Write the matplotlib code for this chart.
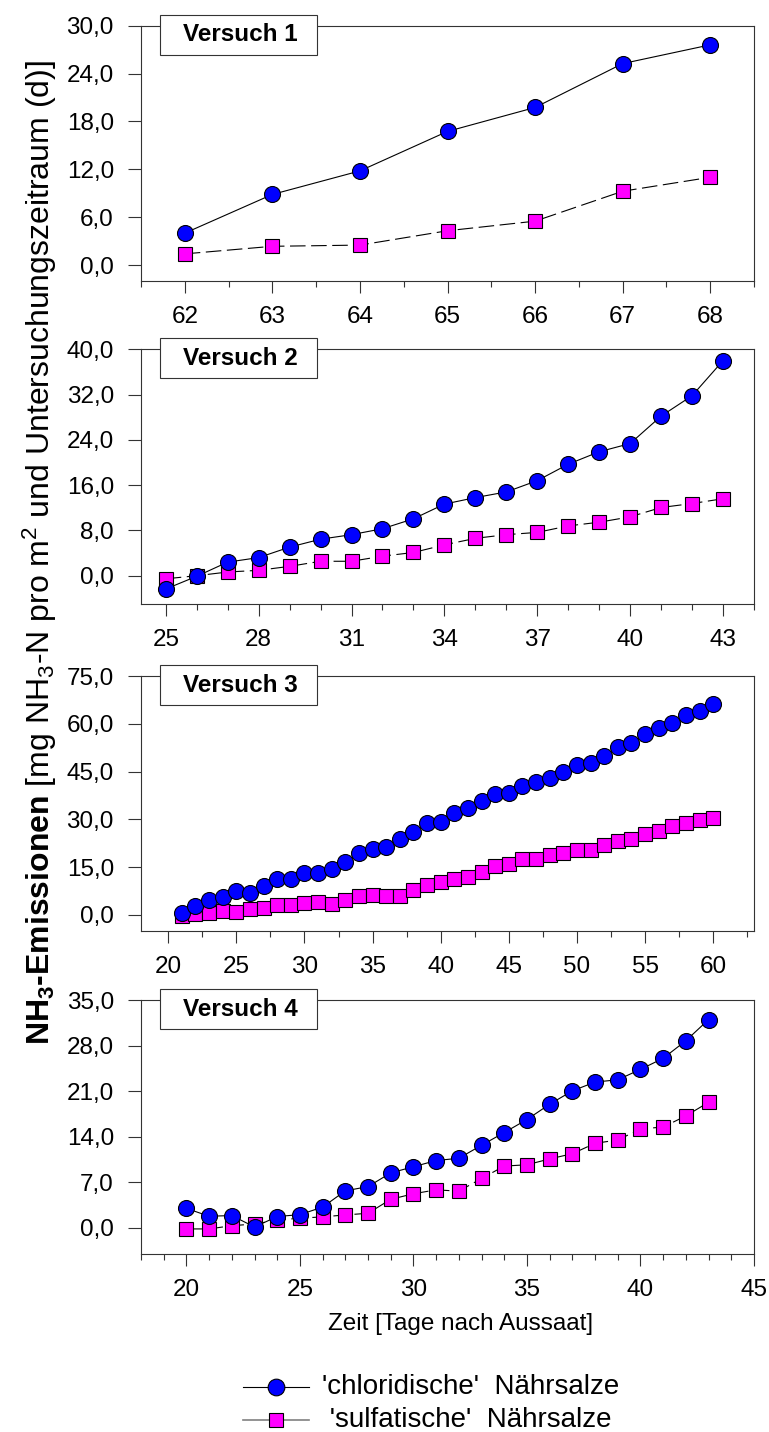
import numpy as np
import matplotlib
matplotlib.use("Agg")
import matplotlib.pyplot as plt
from matplotlib.ticker import FuncFormatter, MultipleLocator
from matplotlib.lines import Line2D
from matplotlib.patches import Rectangle

plt.rcParams['font.family'] = ['Liberation Sans', 'DejaVu Sans']
plt.rcParams['mathtext.fontset'] = 'custom'
plt.rcParams['mathtext.rm'] = 'Liberation Sans'
plt.rcParams['mathtext.it'] = 'Liberation Sans:italic'
plt.rcParams['mathtext.bf'] = 'Liberation Sans:bold'

# ---- data ----
# Versuch 1
tage1 = np.arange(62, 69)
chlorid1 = [4.0, 8.85, 11.8, 16.75, 19.75, 25.25, 27.6]
sulfat1 = [1.4, 2.35, 2.5, 4.3, 5.5, 9.25, 11.0]

# Versuch 2
tage2 = np.arange(25, 44)
chlorid2 = [-2.35, -0.1, 2.4, 3.2, 5.05, 6.45, 7.25, 8.3, 10.05, 12.65, 13.8,
            14.8, 16.8, 19.7, 21.9, 23.35, 28.2, 31.8, 38.0]
sulfat2 = [-0.55, 0.0, 0.65, 0.95, 1.65, 2.55, 2.55, 3.45, 4.1, 5.45, 6.6,
           7.25, 7.65, 8.8, 9.45, 10.4, 12.05, 12.75, 13.6]

# Versuch 3
tage3 = np.arange(21, 61)
chlorid3 = [0.6, 2.9, 4.7, 5.6, 7.4, 6.9, 9.1, 11.3, 11.3, 13.1, 13.1, 14.5,
            16.5, 19.5, 20.7, 21.3, 23.9, 25.9, 28.9, 29.2, 32.0, 33.5, 35.8,
            37.9, 38.1, 40.6, 41.8, 43.1, 44.8, 47.0, 47.8, 49.9, 52.8, 54.1,
            56.7, 58.6, 60.1, 62.9, 64.0, 66.2]
sulfat3 = [-0.4, 0.3, 0.7, 1.3, 0.8, 1.9, 2.1, 3.2, 3.0, 3.8, 4.0, 3.4, 4.5,
           5.8, 6.3, 5.8, 6.0, 7.9, 9.2, 10.3, 11.2, 11.8, 13.3, 15.3, 15.9,
           17.4, 17.4, 18.9, 19.5, 20.3, 20.3, 22.0, 23.1, 23.7, 25.3, 26.3,
           27.8, 28.7, 29.7, 30.3]

# Versuch 4
tage4 = np.arange(20, 44)
chlorid4 = [3.0, 1.8, 1.9, 0.15, 1.75, 2.05, 3.2, 5.7, 6.35, 8.45, 9.4, 10.35,
            10.7, 12.7, 14.65, 16.65, 19.0, 21.05, 22.4, 22.75, 24.35, 26.05,
            28.75, 32.0]
sulfat4 = [-0.15, -0.15, 0.35, 0.6, 1.2, 1.5, 1.7, 2.0, 2.25, 4.4, 5.25, 5.85,
           5.65, 7.6, 9.5, 9.7, 10.6, 11.4, 13.0, 13.5, 15.2, 15.5, 17.2, 19.3]

titel = ["Versuch 1", "Versuch 2", "Versuch 3", "Versuch 4"]
label_chlorid = "'chloridische'  Nährsalze"
label_sulfat = " 'sulfatische'  Nährsalze"

panels = [
    # x, chlorid, sulfat, xlim, ylim, ytick step, xtick major, xtick minor
    (tage1, chlorid1, sulfat1, (61.5, 68.5), (-2, 30), 6, 1, 0.5),
    (tage2, chlorid2, sulfat2, (24.2, 44), (-5, 40), 8, 3, 1),
    (tage3, chlorid3, sulfat3, (18, 63), (-5, 75), 15, 5, 2.5),
    (tage4, chlorid4, sulfat4, (18, 45), (-4, 35), 7, 5, 1),
]

W, H = 769, 1432
fig = plt.figure(figsize=(W / 100, H / 100), dpi=100)

# axes boxes in pixels: (top, bottom)
rows = [(25.7, 281), (349.3, 604), (676, 930.7), (1000, 1254)]
left_px, right_px = 141, 754

fs = 17.5
spine_col = '#333333'
fmt = FuncFormatter(lambda v, p: f"{v:.1f}".replace('.', ','))

for i, (x, c, s, xl, yl, ystep, xmaj, xmin) in enumerate(panels):
    top, bot = rows[i]
    ax = fig.add_axes([left_px / W, 1 - bot / H, (right_px - left_px) / W, (bot - top) / H])
    ax.plot(x, c, '-', color='black', lw=0.8, marker='o', ms=11.5,
            mfc='#0000FF', mec='black', mew=0.8, zorder=4)
    ax.plot(x, s, color='black', lw=0.8, dashes=(14, 5), marker='s', ms=10,
            mfc='#FF00FF', mec='black', mew=0.8, zorder=3)
    ax.set_xlim(*xl)
    ax.set_ylim(*yl)
    ax.set_yticks(np.arange(0, yl[1] + 0.01, ystep))
    ax.yaxis.set_major_formatter(fmt)
    first = np.ceil(xl[0] / xmaj) * xmaj
    if i == 1:
        first = 25
    ax.set_xticks(np.arange(first, xl[1] + 0.01, xmaj))
    ax.xaxis.set_minor_locator(MultipleLocator(xmin))
    ax.tick_params(axis='y', which='major', direction='out', length=9.5, width=0.8,
                   color=spine_col, labelsize=fs, pad=10)
    ax.tick_params(axis='x', which='major', direction='out', length=8.7, width=0.8,
                   color=spine_col, labelsize=fs, pad=9.5)
    ax.tick_params(axis='x', which='minor', direction='out', length=4.3, width=0.8,
                   color=spine_col)
    for sp in ax.spines.values():
        sp.set_color(spine_col)
        sp.set_linewidth(0.8)

    # title box
    h_ax = bot - top
    w_ax = right_px - left_px
    bx0 = (160 - left_px) / w_ax
    bw = 157 / w_ax
    by1 = 1 + 11 / h_ax
    by0 = 1 - 29 / h_ax
    ax.add_patch(Rectangle((bx0, by0), bw, by1 - by0, transform=ax.transAxes,
                           facecolor='white', edgecolor=spine_col, lw=0.8,
                           clip_on=False, zorder=10))
    ax.text(bx0 + bw / 2 + 0.003, (by0 + by1) / 2, titel[i], transform=ax.transAxes,
            ha='center', va='center', fontsize=fs, fontweight='bold', zorder=11)

fig.text(461 / W, 1 - 1324 / H, "Zeit [Tage nach Aussaat]", ha='center', va='center',
         fontsize=fs)

ylab = (r"NH$_\mathbf{3}$-Emissionen "
        r"$\mathrm{[mg\ NH_3}\text{-}\mathrm{N\ pro\ m^2\ und\ Untersuchungszeitraum\ (d)]}$")
fig.text(40 / W, 1 - 553 / H, ylab, rotation=90, ha='center', va='center',
         fontsize=23, fontweight='bold')

# legend, drawn by hand in figure coordinates
leg_rows = [
    (1387, 'black', 0.8, 'o', 12, '#0000FF', label_chlorid),
    (1420, '#808080', 1.2, 's', 10, '#FF00FF', label_sulfat),
]
for yy, lc, lw, mk, ms, mfc, lab in leg_rows:
    yf = 1 - yy / H
    fig.add_artist(Line2D([243 / W, 309 / W], [yf, yf], transform=fig.transFigure,
                          color=lc, lw=lw))
    fig.add_artist(Line2D([276 / W], [yf], transform=fig.transFigure, ls='none',
                          marker=mk, ms=ms, mfc=mfc, mec='black', mew=0.8))
    fig.text(322 / W, yf, lab, ha='left', va='center', fontsize=20)

fig.savefig("out.png", dpi=100)
